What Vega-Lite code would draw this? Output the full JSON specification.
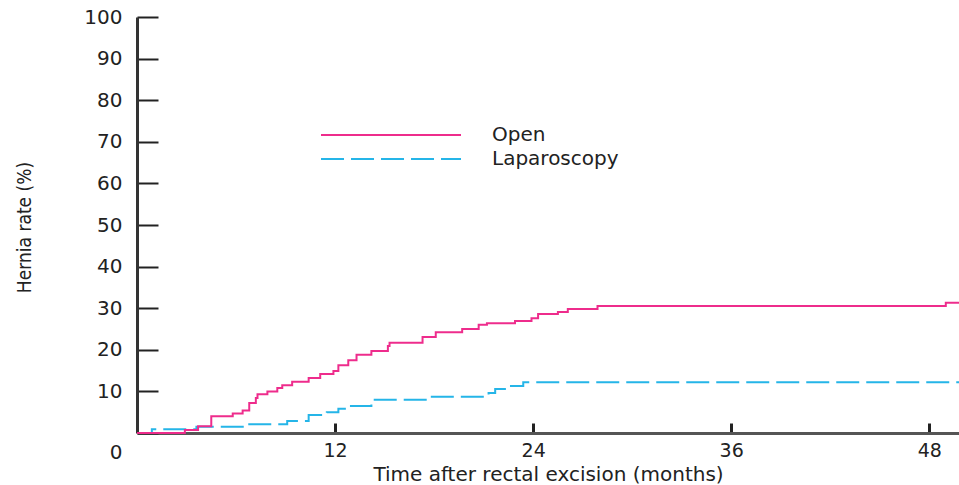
{
  "$schema": "https://vega.github.io/schema/vega-lite/v6.json",
  "width": 822,
  "height": 416,
  "autosize": {"type": "none"},
  "padding": {"left": 137, "top": 17, "right": 0, "bottom": 52},
  "background": "white",
  "config": {"view": {"stroke": null}, "font": "DejaVu Sans"},
  "data": {
    "values": [
      {"group": "Laparoscopy", "month": 0, "rate": 0},
      {"group": "Laparoscopy", "month": 0.9, "rate": 0.9},
      {"group": "Laparoscopy", "month": 3.6, "rate": 1.5},
      {"group": "Laparoscopy", "month": 6.8, "rate": 2.1},
      {"group": "Laparoscopy", "month": 9.1, "rate": 2.9},
      {"group": "Laparoscopy", "month": 10.4, "rate": 4.3},
      {"group": "Laparoscopy", "month": 11.5, "rate": 5.0},
      {"group": "Laparoscopy", "month": 12.2, "rate": 5.8},
      {"group": "Laparoscopy", "month": 12.8, "rate": 6.5},
      {"group": "Laparoscopy", "month": 14.2, "rate": 8.0},
      {"group": "Laparoscopy", "month": 17.6, "rate": 8.7},
      {"group": "Laparoscopy", "month": 21.3, "rate": 9.6},
      {"group": "Laparoscopy", "month": 21.7, "rate": 10.6},
      {"group": "Laparoscopy", "month": 22.4, "rate": 11.3},
      {"group": "Laparoscopy", "month": 23.4, "rate": 12.2},
      {"group": "Laparoscopy", "month": 49.8, "rate": 12.2},
      {"group": "Open", "month": 0, "rate": 0},
      {"group": "Open", "month": 2.9, "rate": 0.7},
      {"group": "Open", "month": 3.7, "rate": 1.6},
      {"group": "Open", "month": 4.5, "rate": 4.0},
      {"group": "Open", "month": 5.8, "rate": 4.7},
      {"group": "Open", "month": 6.4, "rate": 5.4},
      {"group": "Open", "month": 6.8, "rate": 7.2},
      {"group": "Open", "month": 7.2, "rate": 8.4},
      {"group": "Open", "month": 7.3, "rate": 9.3},
      {"group": "Open", "month": 7.9, "rate": 10.0},
      {"group": "Open", "month": 8.5, "rate": 10.8},
      {"group": "Open", "month": 8.8, "rate": 11.5},
      {"group": "Open", "month": 9.4, "rate": 12.3},
      {"group": "Open", "month": 10.4, "rate": 13.2},
      {"group": "Open", "month": 11.1, "rate": 14.2},
      {"group": "Open", "month": 11.9, "rate": 14.9},
      {"group": "Open", "month": 12.2, "rate": 16.3},
      {"group": "Open", "month": 12.8, "rate": 17.5},
      {"group": "Open", "month": 13.3, "rate": 18.8},
      {"group": "Open", "month": 14.2, "rate": 19.7},
      {"group": "Open", "month": 15.2, "rate": 20.9},
      {"group": "Open", "month": 15.3, "rate": 21.7},
      {"group": "Open", "month": 17.3, "rate": 23.1},
      {"group": "Open", "month": 18.1, "rate": 24.2},
      {"group": "Open", "month": 19.7, "rate": 25.0},
      {"group": "Open", "month": 20.7, "rate": 26.0},
      {"group": "Open", "month": 21.2, "rate": 26.4},
      {"group": "Open", "month": 22.9, "rate": 26.9},
      {"group": "Open", "month": 23.9, "rate": 27.6},
      {"group": "Open", "month": 24.3, "rate": 28.6},
      {"group": "Open", "month": 25.5, "rate": 29.1},
      {"group": "Open", "month": 26.1, "rate": 29.8},
      {"group": "Open", "month": 27.9, "rate": 30.5},
      {"group": "Open", "month": 49.0, "rate": 31.3},
      {"group": "Open", "month": 49.8, "rate": 31.3}
    ]
  },
  "transform": [{"calculate": "datum.group", "as": "style"}],
  "mark": {"type": "line", "interpolate": "step-after", "strokeWidth": 2},
  "encoding": {
    "x": {
      "field": "month",
      "type": "quantitative",
      "scale": {"domain": [0, 49.8], "nice": false, "zero": false},
      "axis": {
        "values": [12, 24, 36, 48],
        "title": "Time after rectal excision (months)",
        "titleFont": "DejaVu Sans",
        "titleFontSize": 20,
        "titleFontWeight": "normal",
        "titleColor": "#222",
        "titleBaseline": "middle",
        "titleY": 41,
        "grid": false,
        "domainColor": "#555",
        "domainWidth": 3,
        "tickColor": "#222",
        "tickWidth": 3,
        "tickSize": -10,
        "labelPadding": 18,
        "labelFontSize": 19,
        "labelColor": "#222",
        "labelFlush": false,
        "labelOverlap": false
      }
    },
    "y": {
      "field": "rate",
      "type": "quantitative",
      "scale": {"domain": [0, 100], "nice": false},
      "axis": {
        "values": [0, 10, 20, 30, 40, 50, 60, 70, 80, 90, 100],
        "title": "Hernia rate (%)",
        "titleFont": "'DejaVu Sans Condensed', 'Liberation Sans', sans-serif",
        "titleFontSize": 19,
        "titleFontWeight": "normal",
        "titleColor": "#222",
        "titleAngle": -90,
        "titleAlign": "center",
        "titleBaseline": "middle",
        "titleX": -113,
        "titleY": 210,
        "grid": false,
        "domainColor": "#333",
        "domainWidth": 3,
        "tickColor": "#222",
        "tickWidth": 2,
        "tickSize": -21,
        "labelPadding": 36,
        "labelFontSize": 20,
        "labelColor": "#222",
        "labelFlush": false,
        "labelOverlap": false,
        "labelOffset": {"condition": {"test": "datum.value === 0", "value": 19}, "value": 0}
      }
    },
    "color": {
      "field": "group",
      "type": "nominal",
      "scale": {"domain": ["Open", "Laparoscopy"], "range": ["#ee2c8c", "#25b5e8"]},
      "legend": {
        "title": null,
        "values": ["Open"],
        "orient": "none",
        "legendX": 183,
        "legendY": 47,
        "symbolType": "stroke",
        "symbolSize": 19600,
        "symbolStrokeWidth": 2,
        "labelFont": "DejaVu Sans",
        "labelFontSize": 20,
        "labelColor": "#222",
        "labelOffset": 30
      }
    },
    "strokeDash": {
      "field": "style",
      "type": "nominal",
      "scale": {"domain": ["Laparoscopy", "Open"], "range": [[23, 7], [1, 0]]},
      "legend": {
        "title": null,
        "values": ["Laparoscopy"],
        "orient": "none",
        "legendX": 183,
        "legendY": 71,
        "symbolType": "stroke",
        "symbolSize": 19600,
        "symbolStrokeWidth": 2,
        "symbolStrokeColor": "#25b5e8",
        "labelFont": "DejaVu Sans",
        "labelFontSize": 20,
        "labelColor": "#222",
        "labelOffset": 30
      }
    }
  }
}
